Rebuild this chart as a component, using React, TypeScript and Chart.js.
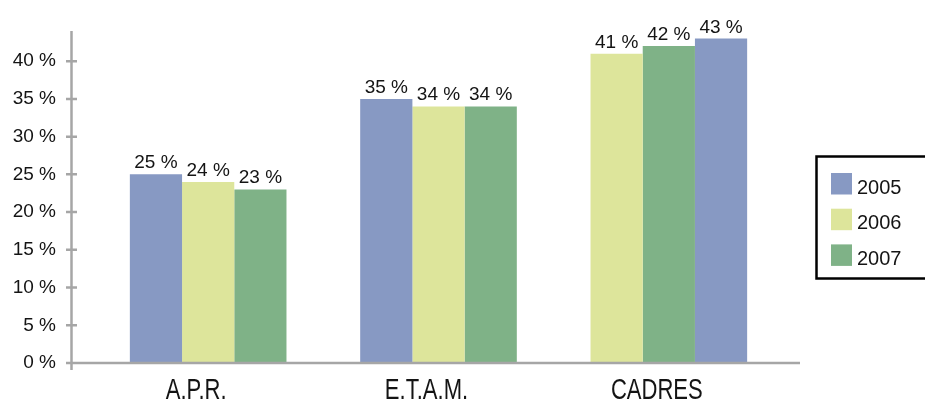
import React, { useEffect, useRef } from "react";
import { Chart, registerables } from "chart.js";

Chart.register(...registerables);

// Categories and yearly shares (in %)
const categories = ["A.P.R.", "E.T.A.M.", "CADRES"];
const years = ["2005", "2006", "2007"];
const values2005 = [25, 35, 43];
const values2006 = [24, 34, 41];
const values2007 = [23, 34, 42];
// Which year sits in each bar slot, per category
const slotYears = [
  ["2005", "2006", "2007"],
  ["2005", "2006", "2007"],
  ["2006", "2007", "2005"],
];
const yTickValues = [0, 5, 10, 15, 20, 25, 30, 35, 40];

const yearColors: Record<string, string> = {
  "2005": "#8799c3",
  "2006": "#dde59b",
  "2007": "#7fb287",
};
const yearValues: Record<string, number[]> = {
  "2005": values2005,
  "2006": values2006,
  "2007": values2007,
};

const AXIS_COLOR = "#a6a6a6";
const TEXT_COLOR = "#141414";
const FONT = "'Liberation Sans', Arial, Helvetica, sans-serif";

const datasets = [0, 1, 2].map((slot) => ({
  label: `slot${slot}`,
  data: categories.map((_, ci) => yearValues[slotYears[ci][slot]][ci]),
  backgroundColor: categories.map((_, ci) => yearColors[slotYears[ci][slot]]),
  borderWidth: 0,
  barPercentage: 1.0,
  categoryPercentage: 0.68,
}));

const axisPlugin = {
  id: "customAxes",
  afterDatasetsDraw(chart: any) {
    const { ctx, chartArea, scales } = chart;
    const y = scales.y;
    const ax = chartArea.left - 21.5;
    const y0 = y.getPixelForValue(0);
    ctx.save();
    ctx.strokeStyle = AXIS_COLOR;
    ctx.lineWidth = 2.5;
    ctx.beginPath();
    ctx.moveTo(ax, chartArea.top);
    ctx.lineTo(ax, y0 + 7);
    ctx.moveTo(ax - 5.5, y0);
    ctx.lineTo(chartArea.right + 16, y0);
    for (const v of yTickValues) {
      const py = y.getPixelForValue(v);
      ctx.moveTo(ax - 5.5, py);
      ctx.lineTo(ax + 5.5, py);
    }
    ctx.stroke();
    ctx.restore();
  },
};

// Condensed category names under each bar group
const categoryLabelPlugin = {
  id: "categoryLabels",
  afterDraw(chart: any) {
    const { ctx, scales } = chart;
    const x = scales.x;
    ctx.save();
    ctx.font = `29px ${FONT}`;
    ctx.fillStyle = TEXT_COLOR;
    ctx.textAlign = "center";
    ctx.textBaseline = "alphabetic";
    categories.forEach((name, i) => {
      const cx = x.getPixelForValue(i) - 12;
      ctx.save();
      ctx.translate(cx, 399);
      ctx.scale(0.76, 1);
      ctx.fillText(name, 0, 0);
      ctx.restore();
    });
    ctx.restore();
  },
};

const valueLabelPlugin = {
  id: "valueLabels",
  afterDatasetsDraw(chart: any) {
    const { ctx } = chart;
    ctx.save();
    ctx.font = `19px ${FONT}`;
    ctx.fillStyle = TEXT_COLOR;
    ctx.textAlign = "center";
    ctx.textBaseline = "alphabetic";
    chart.data.datasets.forEach((ds: any, di: number) => {
      const meta = chart.getDatasetMeta(di);
      meta.data.forEach((bar: any, i: number) => {
        ctx.fillText(`${ds.data[i]} %`, bar.x, bar.y - 6);
      });
    });
    ctx.restore();
  },
};

const legendPlugin = {
  id: "boxLegend",
  afterDraw(chart: any) {
    const { ctx } = chart;
    const left = 816.5;
    const top = 156.5;
    const bottom = 278.5;
    ctx.save();
    ctx.strokeStyle = "#000";
    ctx.lineWidth = 2.5;
    ctx.strokeRect(left, top, chart.width + 10 - left, bottom - top);
    ctx.font = `20px ${FONT}`;
    ctx.textAlign = "left";
    ctx.textBaseline = "alphabetic";
    years.forEach((yr, i) => {
      const sy = 173 + i * 35.7;
      ctx.fillStyle = yearColors[yr];
      ctx.fillRect(831, sy, 21, 21.5);
      ctx.fillStyle = TEXT_COLOR;
      ctx.fillText(yr, 857, sy + 20.5);
    });
    ctx.restore();
  },
};

export default function App() {
  const canvasRef = useRef<HTMLCanvasElement | null>(null);

  useEffect(() => {
    if (!canvasRef.current) return;
    const chart = new Chart(canvasRef.current, {
      type: "bar",
      data: { labels: categories, datasets },
      options: {
        responsive: false,
        animation: false,
        devicePixelRatio: 1,
        layout: { padding: { top: 31, right: 141, left: 0, bottom: 0 } },
        plugins: {
          legend: { display: false },
          tooltip: { enabled: false },
        },
        scales: {
          x: {
            grid: { display: false, drawTicks: false },
            border: { display: false },
            ticks: { display: false },
            afterFit(scale: any) {
              scale.height = 38;
              scale.paddingLeft = 0;
              scale.paddingRight = 0;
            },
          },
          y: {
            min: 0,
            max: 44,
            grid: { display: false, drawTicks: false },
            border: { display: false },
            ticks: {
              stepSize: 5,
              color: TEXT_COLOR,
              padding: 37,
              font: { family: FONT, size: 19 },
              callback: (v: any) => (Number(v) % 5 === 0 ? `${v} %` : null),
            },
            afterFit(scale: any) {
              scale.width = 93;
              scale.paddingTop = 0;
              scale.paddingBottom = 0;
            },
          },
        },
      },
      plugins: [axisPlugin, valueLabelPlugin, categoryLabelPlugin, legendPlugin],
    });
    return () => chart.destroy();
  }, []);

  return (
    <div style={{ position: "fixed", left: 0, top: 0, width: 925, height: 401, background: "#fff" }}>
      <canvas ref={canvasRef} width={925} height={401} style={{ display: "block" }} />
    </div>
  );
}
